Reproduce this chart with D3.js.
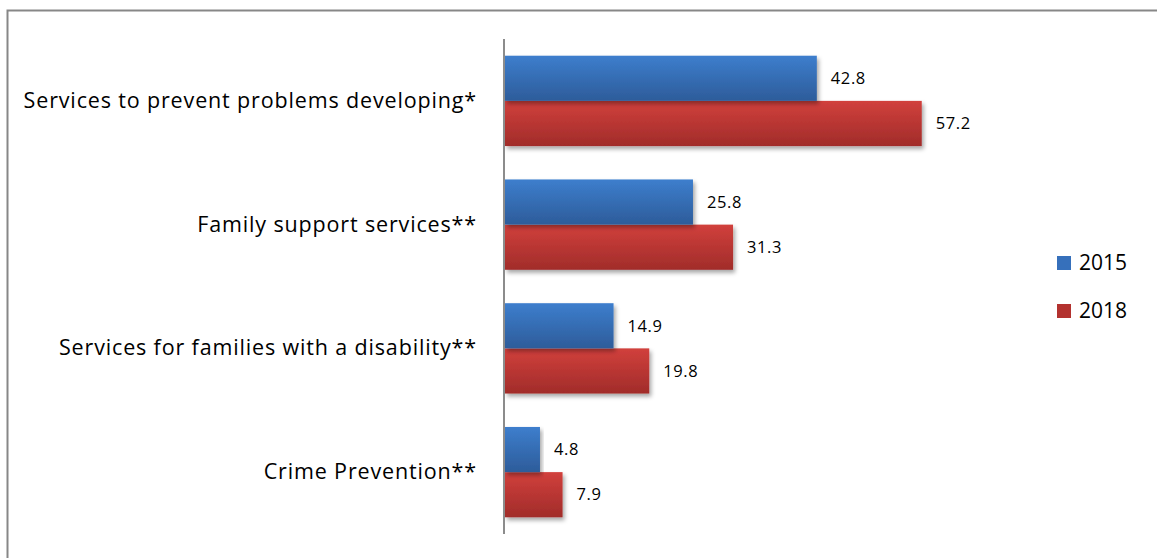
<!DOCTYPE html>
<html>
<head>
<meta charset="utf-8">
<script src="https://cdn.jsdelivr.net/npm/d3@7"></script>
<style>
  html, body { margin: 0; padding: 0; background: #fff; }
  svg { display: block; }
  text { font-family: "Open Sans", sans-serif; fill: #000; }
</style>
</head>
<body>
<svg id="chart" width="1157" height="558"></svg>
<script>
// Categories (top to bottom) and the two survey years
const categories = [
  "Services to prevent problems developing*",
  "Family support services**",
  "Services for families with a disability**",
  "Crime Prevention**"
];
const seriesNames = ["2015", "2018"];
const values2015 = [42.8, 25.8, 14.9, 4.8];
const values2018 = [57.2, 31.3, 19.8, 7.9];

const svg = d3.select("#chart");
const W = 1157, H = 558;

// Outer frame of the chart area
svg.append("rect")
  .attr("x", 7.5).attr("y", 10.5)
  .attr("width", W + 10).attr("height", H + 10)
  .attr("fill", "#fff").attr("stroke", "#878787").attr("stroke-width", 2);

const defs = svg.append("defs");
function grad(id, top, bottom) {
  const g = defs.append("linearGradient").attr("id", id)
    .attr("x1", 0).attr("y1", 0).attr("x2", 0).attr("y2", 1);
  g.append("stop").attr("offset", "0%").attr("stop-color", top);
  g.append("stop").attr("offset", "100%").attr("stop-color", bottom);
}
grad("g2015", "#3d7ecd", "#2d5c9a");
grad("g2018", "#d1403c", "#a12c2a");
const shadow = defs.append("filter").attr("id", "shadow")
  .attr("x", "-5%").attr("y", "-20%").attr("width", "115%").attr("height", "160%");
shadow.append("feDropShadow").attr("dx", 2).attr("dy", 3)
  .attr("stdDeviation", 2.2).attr("flood-color", "#000").attr("flood-opacity", 0.35);

const x0 = 505;
const x = d3.scaleLinear().domain([0, 70]).range([x0, 1015]);
const y = d3.scaleBand().domain(categories).range([39, 534]).paddingInner(0.27).paddingOuter(0.135);
const ySub = d3.scaleBand().domain(seriesNames).range([0, y.bandwidth()]);

const colors = { "2015": "url(#g2015)", "2018": "url(#g2018)" };
const legendColors = { "2015": "#3670bb", "2018": "#b3322f" };

const rows = categories.map((c, i) => ({
  cat: c,
  items: [
    { s: "2015", v: values2015[i] },
    { s: "2018", v: values2018[i] }
  ]
}));

const groups = svg.selectAll("g.cat").data(rows).join("g")
  .attr("class", "cat")
  .attr("transform", d => `translate(0,${y(d.cat)})`);

// Draw 2018 first so the 2015 bar's shadow sits over it
groups.selectAll("rect.bar").data(d => d.items.slice().reverse()).join("rect")
  .attr("class", "bar")
  .attr("x", x0)
  .attr("y", d => ySub(d.s))
  .attr("width", d => x(d.v) - x0)
  .attr("height", ySub.bandwidth())
  .attr("fill", d => colors[d.s])
  .attr("filter", "url(#shadow)");

groups.selectAll("text.val").data(d => d.items).join("text")
  .attr("class", "val")
  .attr("x", d => x(d.v) + 14)
  .attr("y", d => ySub(d.s) + ySub.bandwidth() / 2)
  .attr("dy", "0.35em")
  .style("font-size", "16.5px")
  .style("letter-spacing", "0.6px")
  .text(d => d.v.toFixed(1));

// Category axis
const yAxis = svg.append("g").attr("transform", `translate(${x0 - 1},0)`)
  .call(d3.axisLeft(y).tickSize(0).tickPadding(27));
yAxis.select(".domain").attr("stroke", "#8c8c8c").attr("stroke-width", 2)
  .attr("d", `M0,39V534`);
yAxis.selectAll("text").style("font-size", "21.5px")
  .style("letter-spacing", "0.85px")
  .style("font-family", "'Open Sans', sans-serif").attr("fill", "#000");

// Legend
const legend = svg.append("g").attr("transform", "translate(1057,256)");
seriesNames.forEach((s, i) => {
  const g = legend.append("g").attr("transform", `translate(0,${i * 48})`);
  g.append("rect").attr("width", 14).attr("height", 14).attr("fill", legendColors[s]);
  g.append("text").attr("x", 22).attr("y", 7).attr("dy", "0.35em")
    .style("font-size", "21px").text(s);
});
</script>
</body>
</html>
